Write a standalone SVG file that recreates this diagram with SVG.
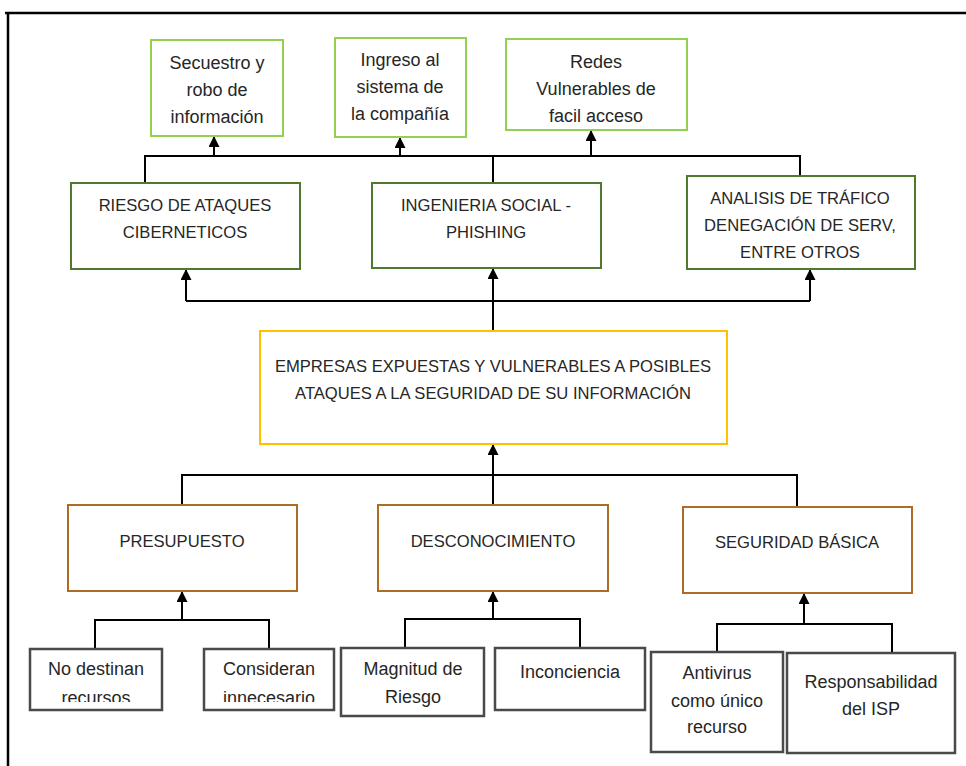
<svg xmlns="http://www.w3.org/2000/svg" width="966" height="766" viewBox="0 0 966 766">
<defs>
<style>
.t{font-family:"Liberation Sans",Arial,sans-serif;fill:#262626;text-anchor:middle}
.up{font-size:16.6px}
.lo{font-size:18px}
.lg{fill:#fff;stroke:#92d050;stroke-width:2}
.dg{fill:#fff;stroke:#4f7a2d;stroke-width:2}
.yl{fill:#fff;stroke:#ffc000;stroke-width:2}
.br{fill:#fff;stroke:#ad6b24;stroke-width:2}
.gr{fill:#fff;stroke:#4a4a4a;stroke-width:2.5}
.c{fill:none;stroke:#000;stroke-width:2}
.a{fill:none;stroke:#000;stroke-width:2;marker-end:url(#ah)}
</style>
<marker id="ah" viewBox="0 0 10 10" refX="10" refY="5" markerWidth="14" markerHeight="11" markerUnits="userSpaceOnUse" orient="auto">
<path d="M0,0 L10,5 L0,10 z" fill="#000"/>
</marker>
<clipPath id="clipA"><rect x="30" y="649" width="132" height="53"/></clipPath>
<clipPath id="clipB"><rect x="204" y="649" width="130" height="53"/></clipPath>
</defs>
<rect x="0" y="0" width="966" height="766" fill="#fff"/>
<g id="frame"><path d="M5,13 H966 M8,13 V766" fill="none" stroke="#000" stroke-width="2.5"/></g>

<g id="connectors">
<path class="c" d="M145,183 V156 H800 V176"/>
<path class="c" d="M493,183 V156"/>
<path class="a" d="M214,156 V136"/>
<path class="a" d="M400,157 V137"/>
<path class="a" d="M591,156 V130"/>
<path class="c" d="M493,331 V301" stroke-width="3.5"/>
<path class="a" d="M493,301 V268"/>
<path class="c" d="M186,301 H810"/>
<path class="a" d="M186,301 V269"/>
<path class="a" d="M810,301 V269"/>
<path class="c" d="M182,505 V475 H797 V507"/>
<path class="c" d="M493,505 V477"/>
<path class="a" d="M493,477 V444"/>
<path class="c" d="M95,649 V620 H269 V649"/>
<path class="a" d="M182,620 V591" stroke-width="3"/>
<path class="c" d="M405,648 V619 H580 V647"/>
<path class="a" d="M493,619 V591" stroke-width="3"/>
<path class="c" d="M717,653 V624 H892 V652"/>
<path class="a" d="M804,624 V593" stroke-width="3"/>
</g>

<g id="n-secuestro"><rect class="lg" x="151" y="40" width="132" height="96"/>
<text class="t lo" x="217" y="69">Secuestro y</text><text class="t lo" x="217" y="96">robo de</text><text class="t lo" x="217" y="123">información</text></g>
<g id="n-ingreso"><rect class="lg" x="335" y="38" width="131" height="99"/>
<text class="t lo" x="400" y="66">Ingreso al</text><text class="t lo" x="400" y="93">sistema de</text><text class="t lo" x="400" y="120">la compañía</text></g>
<g id="n-redes"><rect class="lg" x="506" y="39" width="181" height="91"/>
<text class="t lo" x="596" y="68">Redes</text><text class="t lo" x="596" y="95">Vulnerables de</text><text class="t lo" x="596" y="122">facil acceso</text></g>

<g id="n-riesgo"><rect class="dg" x="71" y="183" width="229" height="86"/>
<text class="t up" x="185" y="211">RIESGO DE ATAQUES</text><text class="t up" x="185" y="238">CIBERNETICOS</text></g>
<g id="n-ingenieria"><rect class="dg" x="372" y="183" width="229" height="85"/>
<text class="t up" x="486" y="211">INGENIERIA SOCIAL -</text><text class="t up" x="486" y="238">PHISHING</text></g>
<g id="n-analisis"><rect class="dg" x="687" y="176" width="228" height="93"/>
<text class="t up" x="800" y="204">ANALISIS DE TRÁFICO</text><text class="t up" x="800" y="231">DENEGACIÓN DE SERV,</text><text class="t up" x="800" y="258">ENTRE OTROS</text></g>

<g id="n-empresas"><rect class="yl" x="260" y="331" width="467" height="113"/>
<text class="t up" x="493" y="372">EMPRESAS EXPUESTAS Y VULNERABLES A POSIBLES</text>
<text class="t up" x="493" y="399">ATAQUES A LA SEGURIDAD DE SU INFORMACIÓN</text></g>

<g id="n-presupuesto"><rect class="br" x="68" y="505" width="229" height="86"/>
<text class="t up" x="182" y="547">PRESUPUESTO</text></g>
<g id="n-desconocimiento"><rect class="br" x="378" y="505" width="230" height="86"/>
<text class="t up" x="493" y="547">DESCONOCIMIENTO</text></g>
<g id="n-seguridad"><rect class="br" x="683" y="507" width="229" height="86"/>
<text class="t up" x="797" y="548">SEGURIDAD BÁSICA</text></g>

<g id="n-nodestinan"><rect class="gr" x="30" y="649" width="132" height="61"/>
<g clip-path="url(#clipA)"><text class="t lo" x="96" y="675">No destinan</text><text class="t lo" x="96" y="704">recursos</text></g></g>
<g id="n-consideran"><rect class="gr" x="204" y="649" width="130" height="61"/>
<g clip-path="url(#clipB)"><text class="t lo" x="269" y="675">Consideran</text><text class="t lo" x="269" y="704">innecesario</text></g></g>
<g id="n-magnitud"><rect class="gr" x="341" y="648" width="143" height="68"/>
<text class="t lo" x="413" y="675">Magnitud de</text><text class="t lo" x="413" y="703">Riesgo</text></g>
<g id="n-inconciencia"><rect class="gr" x="495" y="648" width="150" height="62"/>
<text class="t lo" x="570" y="678">Inconciencia</text></g>
<g id="n-antivirus"><rect class="gr" x="651" y="652" width="132" height="100"/>
<text class="t lo" x="717" y="679">Antivirus</text><text class="t lo" x="717" y="707">como único</text><text class="t lo" x="717" y="733">recurso</text></g>
<g id="n-responsabilidad"><rect class="gr" x="787" y="653" width="168" height="100"/>
<text class="t lo" x="871" y="688">Responsabilidad</text><text class="t lo" x="871" y="715">del ISP</text></g>
</svg>
